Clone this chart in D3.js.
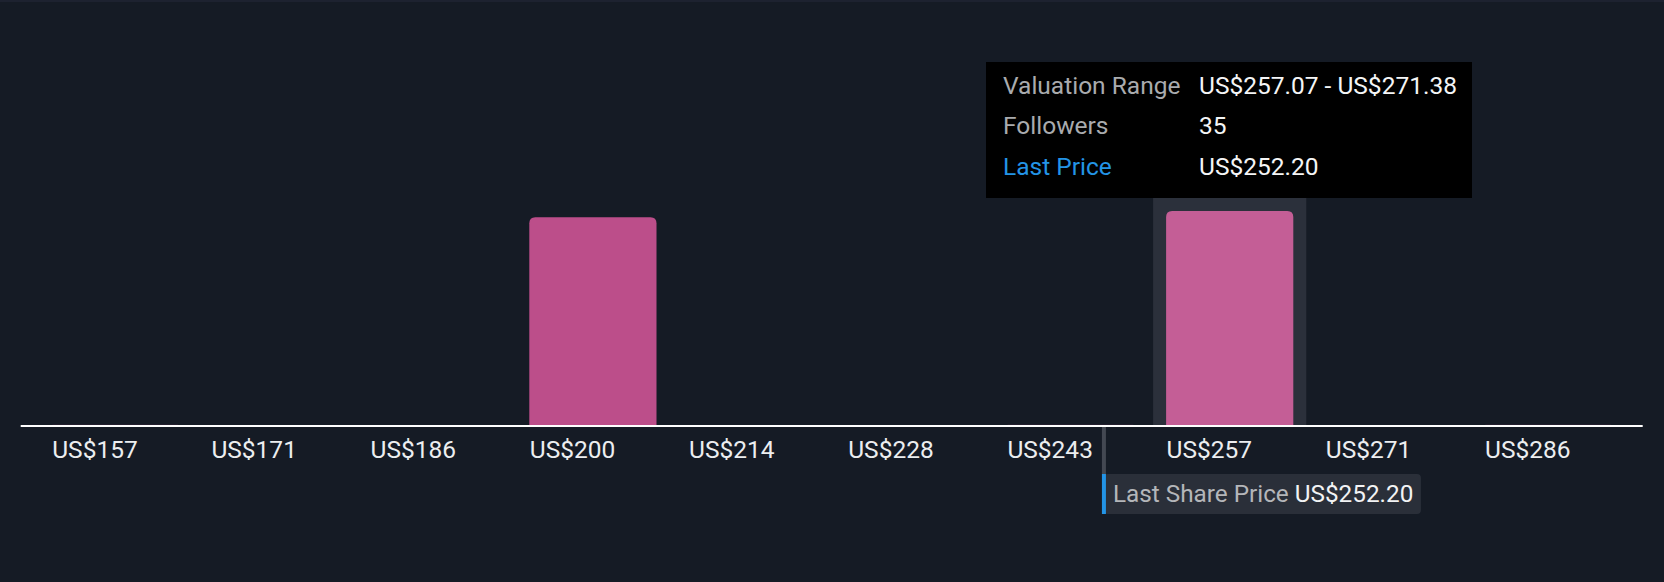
<!DOCTYPE html>
<html>
<head>
<meta charset="utf-8">
<style>
  html, body { margin: 0; padding: 0; background: #151b25; }
  body { font-family: Roboto, "Open Sans", sans-serif; }
  svg { display: block; font-family: Roboto, "Open Sans", sans-serif; }
  .axis path, .axis line { display: none; }
  .axis text { fill: #eceef0; font-size: 24.5px; font-family: Roboto, sans-serif; }
</style>
</head>
<body>
<script src="https://d3js.org/d3.v7.min.js"></script>
<script>
// data
var binStarts = [156.90, 171.21, 185.52, 199.83, 214.14, 228.45, 242.76, 257.07, 271.38, 285.69];
var binEnd = 300.00;
var followers = [0.2, 0, 0, 34, 0, 0, 0.2, 35, 0, 0.2];
var tickLabels = ["US$157", "US$171", "US$186", "US$200", "US$214", "US$228", "US$243", "US$257", "US$271", "US$286"];
var lastPrice = 252.20;
var hoverBin = 7;
var tooltipRows = [
  {label: "Valuation Range", value: "US$257.07 - US$271.38", color: "#a9abae"},
  {label: "Followers", value: "35", color: "#a9abae"},
  {label: "Last Price", value: "US$252.20", color: "#2394e6"}
];

var width = 1664, height = 582;
var margin = {top: 211, right: 36.3, bottom: 156, left: 35.7};
var baseY = height - margin.bottom;

var svg = d3.select("body").append("svg")
    .attr("width", width)
    .attr("height", height);

// thin lighter strip along the top edge
svg.append("rect")
    .attr("x", 0).attr("y", 0)
    .attr("width", width).attr("height", 2)
    .attr("fill", "#1d2230");

var x = d3.scaleLinear()
    .domain([binStarts[0], binEnd])
    .range([margin.left, width - margin.right]);

var y = d3.scaleLinear()
    .domain([0, d3.max(followers)])
    .range([baseY, margin.top]);

var pad = 16;

// hover band behind the highlighted bin
svg.append("rect")
    .attr("x", x(binStarts[hoverBin]) + 3)
    .attr("y", margin.top - 13)
    .attr("width", x(binStarts[hoverBin + 1]) - x(binStarts[hoverBin]) - 6)
    .attr("height", baseY - margin.top + 13)
    .attr("fill", "#2b303b");

// bars with rounded tops
function barPath(x0, x1, yTop, r) {
  var h = baseY - yTop;
  r = Math.min(r, h, (x1 - x0) / 2);
  return "M" + x0 + "," + baseY +
    "V" + (yTop + r) +
    "Q" + x0 + "," + yTop + " " + (x0 + r) + "," + yTop +
    "H" + (x1 - r) +
    "Q" + x1 + "," + yTop + " " + x1 + "," + (yTop + r) +
    "V" + baseY + "Z";
}

svg.selectAll(".bar")
    .data(followers)
    .enter().append("path")
    .attr("class", "bar")
    .attr("d", function(d, i) {
      var x0 = x(binStarts[i]) + pad;
      var x1 = x(i + 1 < binStarts.length ? binStarts[i + 1] : binEnd) - pad;
      return barPath(x0, x1, y(d), 6);
    })
    .attr("fill", function(d, i) { return i === hoverBin ? "#c45e96" : "#bc4e8a"; })
    .attr("fill-opacity", function(d) { return d < 1 ? 0.35 : 1; })
    .style("display", function(d) { return d > 0 ? null : "none"; });

// axis labels
var axis = svg.append("g")
    .attr("class", "axis")
    .attr("transform", "translate(0," + baseY + ")")
    .call(d3.axisBottom(x)
      .tickValues(binStarts)
      .tickSize(0)
      .tickFormat(function(d, i) { return tickLabels[i]; }));

axis.attr("font-family", null).attr("font-size", null);
axis.selectAll("text")
    .attr("text-anchor", "start")
    .attr("x", pad)
    .attr("y", 32)
    .attr("dy", 0);

// baseline
svg.append("line")
    .attr("x1", x.range()[0] - 15)
    .attr("x2", x.range()[1] + 15)
    .attr("y1", baseY).attr("y2", baseY)
    .attr("stroke", "#ffffff")
    .attr("stroke-width", 2);

// last share price marker (sits a few px right of the exact scale value)
var px = x(lastPrice) + 6;
svg.append("rect")
    .attr("x", px).attr("y", baseY + 1)
    .attr("width", 4).attr("height", 47)
    .attr("fill", "#434852");

var tagG = svg.append("g").attr("transform", "translate(" + px + "," + (baseY + 48) + ")");
tagG.append("rect")
    .attr("x", 2).attr("y", 0)
    .attr("width", 317).attr("height", 40)
    .attr("rx", 4)
    .attr("fill", "#2a2f39");
tagG.append("rect")
    .attr("x", 0).attr("y", 0)
    .attr("width", 4).attr("height", 40)
    .attr("fill", "#2394e6");
var tagText = tagG.append("text")
    .attr("x", 11).attr("y", 28)
    .style("font-size", "24.3px");
tagText.append("tspan").attr("fill", "#b4b6b9").text("Last Share Price ");
tagText.append("tspan").attr("fill", "#f2f3f4").text("US$" + lastPrice.toFixed(2));

// tooltip
var tip = svg.append("g").attr("transform", "translate(986,62)");
tip.append("rect")
    .attr("width", 486).attr("height", 136)
    .attr("fill", "#000000");
tip.selectAll(".tl")
    .data(tooltipRows)
    .enter().append("text")
    .attr("class", "tl")
    .attr("x", 17)
    .attr("y", function(d, i) { return 31.5 + i * 40.7; })
    .attr("fill", function(d) { return d.color; })
    .style("font-size", "24.5px")
    .text(function(d) { return d.label; });
tip.selectAll(".tv")
    .data(tooltipRows)
    .enter().append("text")
    .attr("class", "tv")
    .attr("x", 213)
    .attr("y", function(d, i) { return 31.5 + i * 40.7; })
    .attr("fill", "#f4f5f6")
    .style("font-size", "24.5px")
    .text(function(d) { return d.value; });
</script>
</body>
</html>
